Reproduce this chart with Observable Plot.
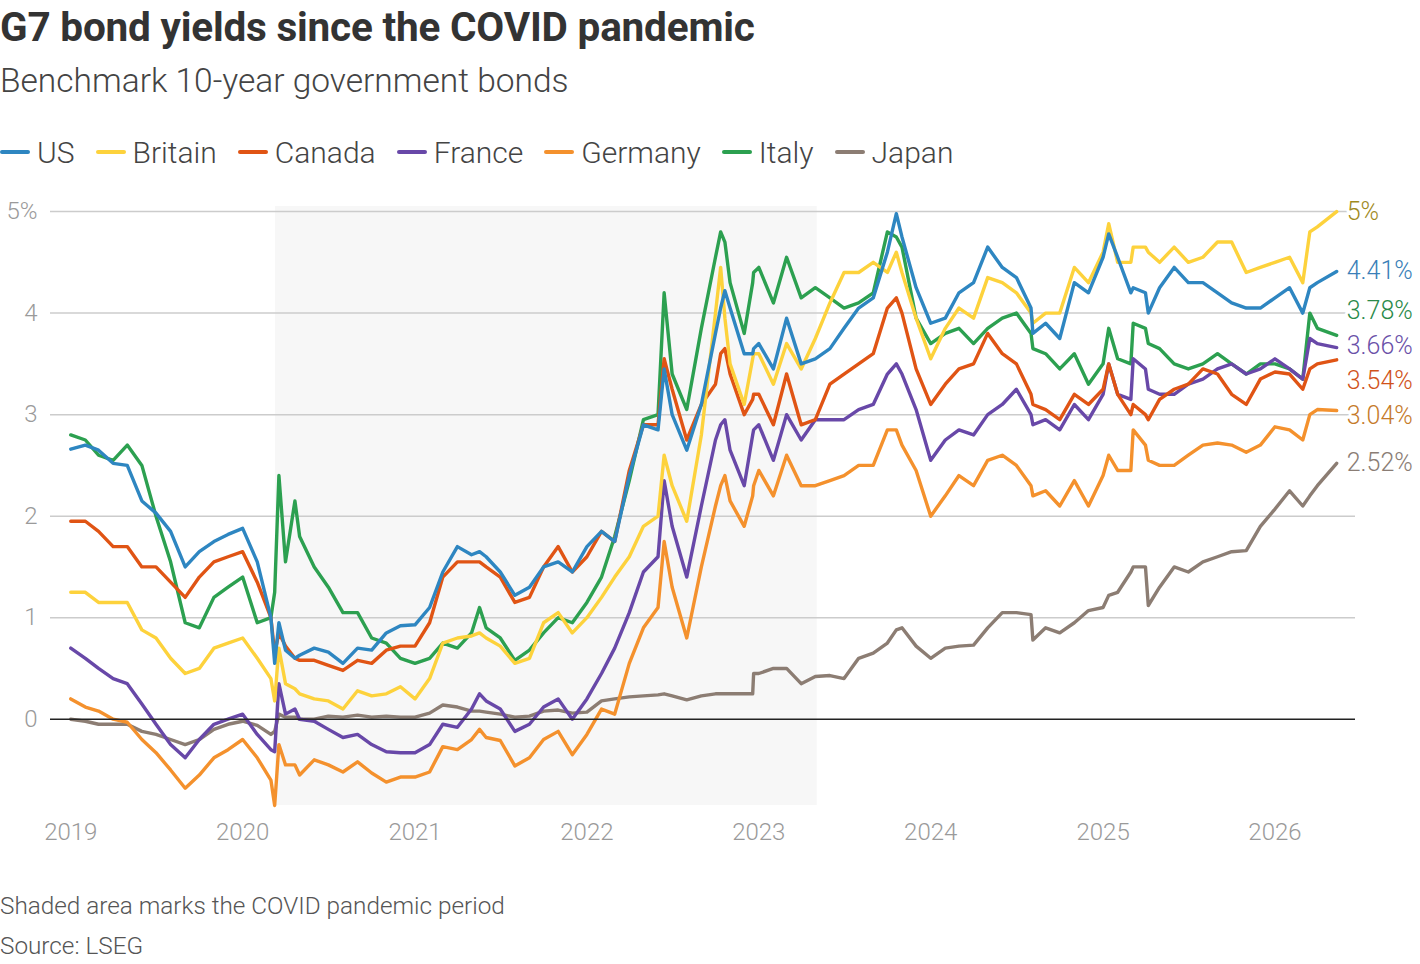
<!DOCTYPE html>
<html><head><meta charset="utf-8">
<script src="https://cdn.jsdelivr.net/npm/d3@7"></script>
<script src="https://cdn.jsdelivr.net/npm/@observablehq/plot@0.6"></script>
<style>
body{margin:0;background:#fff;width:1420px;height:964px;position:relative;overflow:hidden;font-family:Roboto,"Noto Sans",sans-serif;}
#title{position:absolute;left:0;top:2px;font-weight:700;font-size:40.5px;line-height:50px;color:#333;white-space:nowrap;letter-spacing:-0.2px}
#subtitle{position:absolute;left:0;top:59px;font-weight:300;font-size:33.5px;line-height:44px;color:#444;white-space:nowrap}
#legend{position:absolute;left:0;top:132px;height:40px;display:flex;align-items:center;font-weight:300;font-size:30px;color:#444;white-space:nowrap}
.item{display:flex;align-items:center;margin-right:21px}
.sw{width:30px;height:4px;border-radius:2px;margin-right:7px}
#chart{position:absolute;left:0;top:180px}
#note,#source{position:absolute;left:0;font-weight:300;font-size:24.3px;line-height:30px;color:#555;white-space:nowrap}
#note{top:891px}
#source{top:931px}
</style></head>
<body>
<div id="title">G7 bond yields since the COVID pandemic</div>
<div id="subtitle">Benchmark 10-year government bonds</div>
<div id="legend"></div>
<div id="chart"></div>
<div id="note">Shaded area marks the COVID pandemic period</div>
<div id="source">Source: LSEG</div>
<script>
const names = ["US","Britain","Canada","France","Germany","Italy","Japan"];
const lineColors = ["#2e86c1","#fdd23c","#e05414","#6848a8","#f4912d","#2ca050","#8c7d73"];
const labelColors = ["#3a7fb8","#a08a1e","#d0521a","#6a50a8","#c57a2a","#2a8a4a","#8a7d75"];
const yTicks = [0,1,2,3,4,5];
const xTicks = ["2019","2020","2021","2022","2023","2024","2025","2026"];
const covidPeriod = ["2020-03-11","2023-05-05"];

const dates = [
 "2019-01-01","2019-02-01","2019-03-01","2019-04-01","2019-05-01","2019-06-01","2019-07-01","2019-08-01","2019-09-01","2019-10-01","2019-11-01","2019-12-01",
 "2020-01-01","2020-02-01","2020-03-01","2020-03-09","2020-03-18","2020-04-01","2020-04-21","2020-05-01","2020-06-01","2020-07-01","2020-08-01","2020-09-01","2020-10-01","2020-11-01","2020-12-01",
 "2021-01-01","2021-02-01","2021-03-01","2021-04-01","2021-05-01","2021-05-18","2021-06-01","2021-07-01","2021-08-01","2021-09-01","2021-10-01","2021-11-01","2021-12-01",
 "2022-01-01","2022-02-01","2022-03-01","2022-04-01","2022-05-01","2022-06-01","2022-06-14","2022-07-01","2022-08-01","2022-09-01","2022-10-01","2022-10-12","2022-10-21","2022-11-01","2022-12-01","2022-12-19","2022-12-21",
 "2023-01-01","2023-02-01","2023-03-01","2023-04-01","2023-05-01","2023-06-01","2023-07-01","2023-08-01","2023-09-01","2023-10-01","2023-10-20","2023-11-01","2023-12-01",
 "2024-01-01","2024-02-01","2024-03-01","2024-04-01","2024-05-01","2024-06-01","2024-07-01","2024-08-01","2024-08-05","2024-09-01","2024-10-01","2024-11-01","2024-12-01",
 "2025-01-01","2025-01-13","2025-02-01","2025-03-01","2025-03-06","2025-04-01","2025-04-07","2025-05-01","2025-06-01","2025-07-01","2025-08-01","2025-09-01","2025-10-01","2025-11-01","2025-12-01",
 "2026-01-01","2026-02-01","2026-03-01","2026-03-16","2026-04-01","2026-05-12"
];

const us = [
 2.66,2.7,2.65,2.52,2.5,2.15,2.03,1.85,1.5,1.65,1.75,1.82,
 1.88,1.55,1.0,0.55,0.95,0.68,0.6,0.63,0.7,0.66,0.55,0.7,0.68,0.85,0.92,
 0.93,1.1,1.45,1.7,1.62,1.65,1.6,1.45,1.22,1.3,1.5,1.55,1.45,
 1.7,1.85,1.75,2.4,2.9,2.85,3.45,3.0,2.65,3.1,3.8,4.05,4.22,4.05,3.6,3.6,3.65,
 3.7,3.45,3.95,3.5,3.55,3.65,3.85,4.05,4.15,4.6,4.98,4.75,4.25,
 3.9,3.95,4.2,4.3,4.65,4.45,4.35,4.05,3.8,3.9,3.75,4.3,4.2,
 4.55,4.78,4.55,4.2,4.25,4.2,4.0,4.25,4.45,4.3,4.3,4.2,4.1,4.05,4.05,
 4.15,4.25,4.0,4.25,4.3,4.41
];
const britain = [
 1.25,1.25,1.15,1.15,1.15,0.88,0.8,0.6,0.45,0.5,0.7,0.75,
 0.8,0.6,0.4,0.18,0.7,0.35,0.3,0.25,0.2,0.18,0.1,0.28,0.23,0.25,0.32,
 0.2,0.4,0.75,0.8,0.82,0.85,0.8,0.72,0.55,0.6,0.95,1.05,0.85,
 1.0,1.2,1.4,1.6,1.9,2.0,2.6,2.3,1.95,2.8,4.0,4.45,3.95,3.5,3.1,3.55,3.6,
 3.6,3.3,3.7,3.45,3.75,4.1,4.4,4.4,4.5,4.4,4.6,4.4,3.95,
 3.55,3.85,4.05,3.95,4.35,4.3,4.2,4.0,3.9,4.0,4.0,4.45,4.3,
 4.6,4.88,4.5,4.5,4.65,4.65,4.6,4.5,4.65,4.5,4.55,4.7,4.7,4.4,4.45,
 4.5,4.55,4.3,4.8,4.85,5.0
];
const canada = [
 1.95,1.95,1.85,1.7,1.7,1.5,1.5,1.35,1.2,1.4,1.55,1.6,
 1.65,1.35,1.0,0.65,0.85,0.72,0.6,0.58,0.58,0.53,0.48,0.58,0.55,0.68,0.72,
 0.72,0.95,1.4,1.55,1.55,1.55,1.5,1.4,1.15,1.2,1.5,1.7,1.45,
 1.6,1.85,1.75,2.45,2.9,2.9,3.55,3.25,2.75,3.1,3.3,3.6,3.65,3.4,3.0,3.15,3.2,
 3.2,2.9,3.4,2.9,2.95,3.3,3.4,3.5,3.6,4.05,4.15,4.0,3.45,
 3.1,3.3,3.45,3.5,3.8,3.6,3.5,3.2,3.1,3.05,2.95,3.2,3.1,
 3.25,3.5,3.2,3.0,3.1,3.0,2.95,3.15,3.25,3.3,3.45,3.4,3.2,3.1,3.35,
 3.42,3.4,3.25,3.45,3.5,3.54
];
const france = [
 0.7,0.6,0.5,0.4,0.35,0.15,-0.05,-0.25,-0.38,-0.2,-0.05,0.0,
 0.05,-0.15,-0.3,-0.32,0.35,0.05,0.1,0.0,-0.02,-0.1,-0.18,-0.15,-0.25,-0.32,-0.33,
 -0.33,-0.25,-0.05,-0.08,0.1,0.25,0.18,0.1,-0.12,-0.05,0.12,0.2,0.0,
 0.2,0.45,0.7,1.05,1.45,1.6,2.35,1.9,1.4,2.1,2.75,2.9,2.95,2.65,2.3,2.8,2.85,
 2.9,2.55,3.0,2.75,2.95,2.95,2.95,3.05,3.1,3.4,3.5,3.4,3.05,
 2.55,2.75,2.85,2.8,3.0,3.1,3.25,3.0,2.9,2.95,2.85,3.1,2.95,
 3.2,3.5,3.2,3.15,3.55,3.45,3.25,3.2,3.2,3.3,3.35,3.45,3.5,3.4,3.45,
 3.55,3.45,3.35,3.75,3.7,3.66
];
const germany = [
 0.2,0.12,0.08,0.0,-0.03,-0.2,-0.33,-0.5,-0.68,-0.55,-0.38,-0.3,
 -0.2,-0.38,-0.6,-0.85,-0.25,-0.45,-0.45,-0.55,-0.4,-0.45,-0.52,-0.42,-0.53,-0.62,-0.57,
 -0.57,-0.52,-0.27,-0.3,-0.2,-0.1,-0.18,-0.21,-0.46,-0.38,-0.2,-0.12,-0.35,
 -0.15,0.1,0.05,0.55,0.9,1.1,1.75,1.3,0.8,1.5,2.1,2.3,2.4,2.15,1.9,2.2,2.3,
 2.45,2.2,2.6,2.3,2.3,2.35,2.4,2.5,2.5,2.85,2.85,2.7,2.45,
 2.0,2.2,2.4,2.3,2.55,2.6,2.5,2.3,2.2,2.25,2.1,2.35,2.1,
 2.4,2.6,2.45,2.45,2.85,2.7,2.55,2.5,2.5,2.6,2.7,2.72,2.7,2.63,2.7,
 2.88,2.85,2.75,3.0,3.05,3.04
];
const italy = [
 2.8,2.75,2.6,2.55,2.7,2.5,2.0,1.55,0.95,0.9,1.2,1.3,
 1.4,0.95,1.0,1.25,2.4,1.55,2.15,1.8,1.5,1.3,1.05,1.05,0.8,0.75,0.6,
 0.55,0.6,0.75,0.7,0.85,1.1,0.9,0.8,0.58,0.68,0.85,1.0,0.95,
 1.15,1.4,1.8,2.35,2.95,3.0,4.2,3.4,3.05,3.85,4.55,4.8,4.7,4.3,3.8,4.3,4.4,
 4.45,4.1,4.55,4.15,4.25,4.15,4.05,4.1,4.2,4.8,4.75,4.65,3.95,
 3.7,3.8,3.85,3.7,3.85,3.95,4.0,3.8,3.65,3.6,3.45,3.6,3.3,
 3.5,3.85,3.55,3.5,3.9,3.85,3.7,3.65,3.5,3.45,3.5,3.6,3.5,3.4,3.5,
 3.5,3.45,3.35,4.0,3.85,3.78
];
const japan = [
 0.0,-0.02,-0.05,-0.05,-0.05,-0.12,-0.15,-0.2,-0.25,-0.2,-0.1,-0.05,
 -0.02,-0.06,-0.15,-0.12,0.05,0.02,0.02,0.0,0.0,0.03,0.02,0.04,0.02,0.03,0.02,
 0.02,0.06,0.14,0.12,0.08,0.08,0.07,0.05,0.02,0.03,0.08,0.09,0.06,
 0.07,0.18,0.2,0.22,0.23,0.24,0.25,0.23,0.19,0.23,0.25,0.25,0.25,0.25,0.25,0.25,0.45,
 0.45,0.5,0.5,0.35,0.42,0.43,0.4,0.6,0.65,0.75,0.88,0.9,0.72,
 0.6,0.7,0.72,0.73,0.9,1.05,1.05,1.03,0.78,0.9,0.85,0.95,1.07,
 1.1,1.22,1.25,1.45,1.5,1.5,1.12,1.3,1.5,1.45,1.55,1.6,1.65,1.66,1.9,
 2.07,2.25,2.1,2.2,2.3,2.52
];

const seriesValues = [us, britain, canada, france, germany, italy, japan];
const parse = d3.utcParse("%Y-%m-%d");
const rows = [];
names.forEach((n, i) => {
  if (seriesValues[i].length !== dates.length) console.warn(n, seriesValues[i].length, dates.length);
  dates.forEach((d, j) => rows.push({country: n, date: parse(d), value: seriesValues[i][j]}));
});
// draw order: Japan at the bottom, US on top
const drawOrder = [6,5,4,3,2,1,0];
const orderedRows = drawOrder.flatMap(i => rows.filter(r => r.country === names[i]));

// legend
const leg = document.getElementById("legend");
names.forEach((n, i) => {
  const it = document.createElement("div"); it.className = "item";
  const sw = document.createElement("span"); sw.className = "sw"; sw.style.background = lineColors[i];
  const tx = document.createElement("span"); tx.textContent = n;
  it.appendChild(sw); it.appendChild(tx); leg.appendChild(it);
});

// end labels with simple vertical dodge
const lastIdx = dates.length - 1;
const labels = names.map((n, i) => ({name: n, value: seriesValues[i][lastIdx], pos: seriesValues[i][lastIdx], color: labelColors[i], date: parse(dates[lastIdx])}));
const sorted = labels.slice().sort((a, b) => b.value - a.value);
const gap = 0.345;
for (let k = 0; k < 200; k++) {
  for (let j = 1; j < sorted.length; j++) {
    const a = sorted[j-1], b = sorted[j];
    const ov = gap - (a.pos - b.pos);
    if (ov > 0) { a.pos += ov/2; b.pos -= ov/2; }
  }
}
const yDomain = [-0.85, 5.05];
const xDomain = [parse("2018-11-19"), parse("2026-06-21")];

const chart = Plot.plot({
  width: 1420, height: 685,
  marginLeft: 50, marginRight: 65, marginTop: 26, marginBottom: 60,
  style: {fontFamily: "Roboto, sans-serif", fontSize: "24px", fontWeight: 300, color: "#9a9a9a", background: "transparent"},
  x: {type: "utc", domain: xDomain},
  y: {domain: yDomain},
  marks: [
    Plot.rect([{a: parse(covidPeriod[0]), b: parse(covidPeriod[1])}], {x1: "a", x2: "b", y1: () => yDomain[0], y2: () => yDomain[1], fill: "#f7f7f7"}),
    Plot.ruleY(yTicks.filter(t => t !== 0), {stroke: "#cccccc", strokeWidth: 1.5}),
    Plot.axisY({ticks: yTicks, tickSize: 0, tickPadding: 13, tickFormat: d => d === 5 ? "5%" : String(d), label: null}),
    Plot.axisX({ticks: xTicks.map(y => parse(y + "-01-01")), tickSize: 0, tickPadding: 17, tickFormat: d3.utcFormat("%Y"), label: null}),
    Plot.line(orderedRows, {x: "date", y: "value", z: "country", stroke: d => lineColors[names.indexOf(d.country)], strokeWidth: 3.4, curve: "linear"}),
    Plot.ruleY([0], {stroke: "#222", strokeWidth: 1.6}),
    Plot.text(labels, {x: "date", y: "pos", text: d => `${d.value}%`, fill: "color", textAnchor: "start", dx: 10, fontSize: 25, fontWeight: 300, stroke: "white", strokeWidth: 6, paintOrder: "stroke"})
  ]
});
document.getElementById("chart").appendChild(chart);
</script>
</body></html>
